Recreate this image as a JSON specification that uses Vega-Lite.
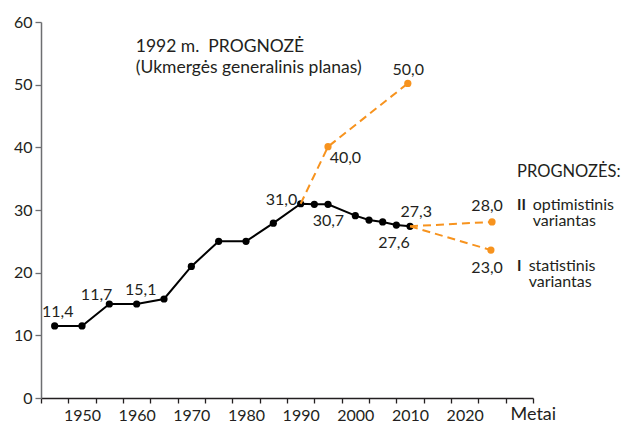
{
  "$schema": "https://vega.github.io/schema/vega-lite/v6.json",
  "width": 492,
  "height": 376,
  "autosize": "none",
  "padding": {"left": 41, "top": 22, "right": 95, "bottom": 24},
  "background": "white",
  "config": {"font": "Lato", "view": {"stroke": null}, "axis": {"grid": false}},
  "datasets": {
    "hist": [
      {"year": 1945, "value": 11.5},
      {"year": 1950, "value": 11.5},
      {"year": 1955, "value": 15.0},
      {"year": 1960, "value": 15.0},
      {"year": 1965, "value": 15.8},
      {"year": 1970, "value": 21.0},
      {"year": 1975, "value": 25.0},
      {"year": 1980, "value": 25.0},
      {"year": 1985, "value": 27.9},
      {"year": 1990, "value": 31.0},
      {"year": 1992.5, "value": 30.9},
      {"year": 1995, "value": 30.9},
      {"year": 2000, "value": 29.1},
      {"year": 2002.5, "value": 28.4},
      {"year": 2005, "value": 28.1},
      {"year": 2007.5, "value": 27.6},
      {"year": 2010, "value": 27.4}
    ],
    "proj": [
      {"scenario": "1992 m. prognozė", "step": 0, "year": 1990, "value": 31.0},
      {"scenario": "1992 m. prognozė", "step": 1, "year": 1995, "value": 40.1},
      {"scenario": "1992 m. prognozė", "step": 2, "year": 2009.6, "value": 50.2},
      {"scenario": "II optimistinis", "step": 0, "year": 2010, "value": 27.4},
      {"scenario": "II optimistinis", "step": 1, "year": 2025, "value": 28.1},
      {"scenario": "I statistinis", "step": 0, "year": 2010, "value": 27.4},
      {"scenario": "I statistinis", "step": 1, "year": 2024.8, "value": 23.6}
    ],
    "labels": [
      {"year": 1945.55, "value": 13.7, "text": "11,4"},
      {"year": 1952.67, "value": 16.5, "text": "11,7"},
      {"year": 1960.75, "value": 17.3, "text": "15,1"},
      {"year": 1986.5, "value": 31.65, "text": "31,0"},
      {"year": 1995.07, "value": 28.3, "text": "30,7"},
      {"year": 2011.14, "value": 29.7, "text": "27,3"},
      {"year": 2007.07, "value": 24.8, "text": "27,6"},
      {"year": 1998.18, "value": 38.35, "text": "40,0"},
      {"year": 2009.68, "value": 52.4, "text": "50,0"},
      {"year": 2024.1, "value": 30.7, "text": "28,0"},
      {"year": 2024.1, "value": 20.8, "text": "23,0"}
    ],
    "notes": [
      {"group": "title", "year": 1959.84, "value": 55.14, "text": "1992 m.\u00a0 PROGNOZĖ\n(Ukmergės generalinis planas)"},
      {"group": "head", "year": 2029.58, "value": 35.33, "text": "PROGNOZĖS:"},
      {"group": "roman", "year": 2029.58, "value": 30.02, "text": "II"},
      {"group": "roman", "year": 2029.58, "value": 20.19, "text": "I"},
      {"group": "desc", "year": 2032.45, "value": 30.02, "text": "optimistinis\nvariantas"},
      {"group": "desc", "year": 2031.7, "value": 20.19, "text": "statistinis\nvariantas"}
    ]
  },
  "layer": [
    {
      "data": {"name": "hist"},
      "mark": {"type": "line", "color": "#000000", "strokeWidth": 2},
      "encoding": {
        "x": {
          "field": "year", "type": "quantitative",
          "scale": {"domain": [1942.5, 2032.5], "nice": false, "zero": false},
          "axis": {
            "orient": "bottom",
            "values": [1942.5, 1947.5, 1952.5, 1957.5, 1962.5, 1967.5, 1972.5, 1977.5, 1982.5, 1987.5, 1992.5, 1997.5, 2002.5, 2007.5, 2012.5, 2017.5, 2022.5, 2027.5, 2032.5],
            "labels": false, "tickSize": 5, "tickWidth": 1.3, "tickColor": "#231f20",
            "domainColor": "#231f20", "domainWidth": 1.5, "title": null
          }
        },
        "y": {
          "field": "value", "type": "quantitative",
          "scale": {"domain": [0, 60], "nice": false},
          "axis": {
            "values": [0, 10, 20, 30, 40, 50, 60],
            "tickSize": 6, "tickWidth": 1.3, "labelPadding": 3, "labelFontSize": 16,
            "labelColor": "#231f20", "domainColor": "#6d6e71", "tickColor": "#6d6e71",
            "domainWidth": 1.5, "title": null, "labelFlush": false
          }
        }
      }
    },
    {
      "data": {"name": "hist"},
      "mark": {"type": "point", "filled": true, "opacity": 1, "color": "#000000", "size": 52},
      "encoding": {
        "x": {
          "field": "year", "type": "quantitative",
          "axis": {
            "orient": "bottom",
            "values": [1950, 1960, 1970, 1980, 1990, 2000, 2010, 2020],
            "format": "d", "ticks": false, "domain": false, "labelFontSize": 16,
            "labelPadding": 9, "labelColor": "#231f20", "labelFlush": false, "labelOverlap": false,
            "title": "Metai", "titleX": 469, "titleY": 21, "titleAlign": "left",
            "titleBaseline": "alphabetic", "titleFontWeight": "normal", "titleFontSize": 18,
            "titleColor": "#231f20"
          }
        },
        "y": {"field": "value", "type": "quantitative"}
      }
    },
    {
      "data": {"name": "proj"},
      "mark": {"type": "line", "color": "#F7931E", "strokeWidth": 2, "strokeDash": [8, 5]},
      "encoding": {
        "x": {"field": "year", "type": "quantitative", "axis": null},
        "y": {"field": "value", "type": "quantitative"},
        "detail": {"field": "scenario"}
      }
    },
    {
      "data": {"name": "proj"},
      "transform": [{"filter": "datum.step > 0"}],
      "mark": {"type": "point", "filled": true, "opacity": 1, "color": "#F7931E", "size": 52},
      "encoding": {
        "x": {"field": "year", "type": "quantitative", "axis": null},
        "y": {"field": "value", "type": "quantitative"}
      }
    },
    {
      "data": {"name": "labels"},
      "mark": {"type": "text", "fontSize": 16, "align": "center", "baseline": "middle", "color": "#231f20"},
      "encoding": {
        "x": {"field": "year", "type": "quantitative", "axis": null},
        "y": {"field": "value", "type": "quantitative"},
        "text": {"field": "text"}
      }
    },
    {
      "data": {"name": "notes"},
      "transform": [{"filter": "datum.group == 'title'"}],
      "mark": {"type": "text", "fontSize": 17.5, "align": "left", "baseline": "alphabetic", "lineBreak": "\n", "lineHeight": 21, "color": "#231f20"},
      "encoding": {
        "x": {"field": "year", "type": "quantitative", "axis": null},
        "y": {"field": "value", "type": "quantitative"},
        "text": {"field": "text"}
      }
    },
    {
      "data": {"name": "notes"},
      "transform": [{"filter": "datum.group == 'head'"}],
      "mark": {"type": "text", "fontSize": 16.5, "align": "left", "baseline": "alphabetic", "color": "#231f20"},
      "encoding": {
        "x": {"field": "year", "type": "quantitative", "axis": null},
        "y": {"field": "value", "type": "quantitative"},
        "text": {"field": "text"}
      }
    },
    {
      "data": {"name": "notes"},
      "transform": [{"filter": "datum.group == 'roman'"}],
      "mark": {"type": "text", "fontSize": 15, "fontWeight": "bold", "align": "left", "baseline": "alphabetic", "color": "#231f20"},
      "encoding": {
        "x": {"field": "year", "type": "quantitative", "axis": null},
        "y": {"field": "value", "type": "quantitative"},
        "text": {"field": "text"}
      }
    },
    {
      "data": {"name": "notes"},
      "transform": [{"filter": "datum.group == 'desc'"}],
      "mark": {"type": "text", "fontSize": 16, "align": "left", "baseline": "alphabetic", "lineBreak": "\n", "lineHeight": 16, "color": "#231f20"},
      "encoding": {
        "x": {"field": "year", "type": "quantitative", "axis": null},
        "y": {"field": "value", "type": "quantitative"},
        "text": {"field": "text"}
      }
    }
  ],
  "resolve": {"axis": {"x": "independent"}}
}
